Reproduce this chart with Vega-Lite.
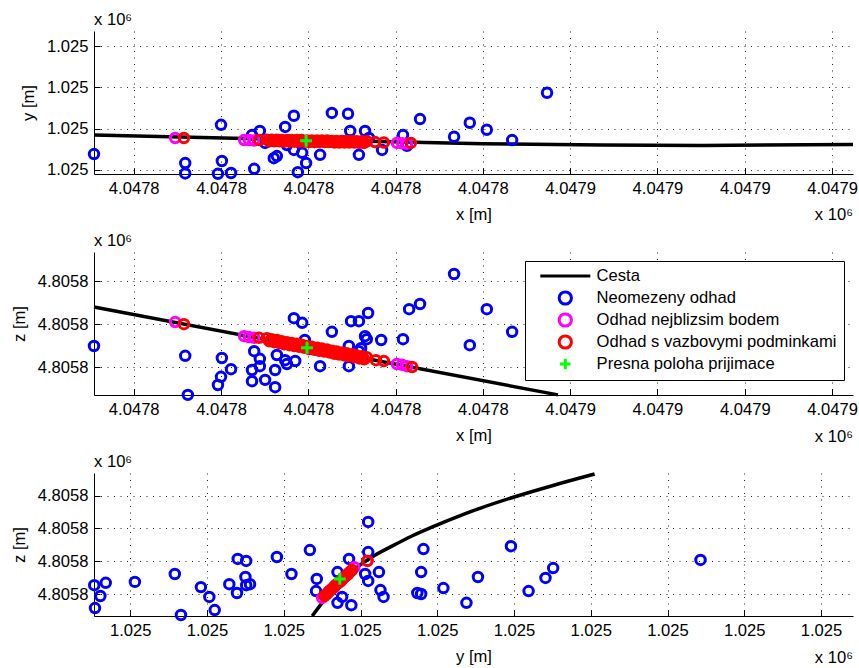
{
  "$schema": "https://vega.github.io/schema/vega-lite/v6.json",
  "background": "white",
  "padding": {"left": 11, "top": 12, "right": 4, "bottom": 5},
  "bounds": "flush",
  "spacing": 78,
  "resolve": {"scale": {"color": "independent"}, "legend": {"color": "independent"}},
  "config": {
    "font": "Liberation Sans",
    "view": {"stroke": null},
    "axis": {
      "domainColor": "black", "domainWidth": 1,
      "tickColor": "black", "tickSize": -6, "tickWidth": 1,
      "labelFont": "Liberation Sans", "labelFontSize": 16.6, "labelColor": "black",
      "labelPadding": 12, "labelFlush": false, "labelOverlap": false, "labelBound": false,
      "titleFont": "Liberation Sans", "titleFontSize": 16.6, "titleFontWeight": "normal", "titleColor": "black",
      "titlePadding": 10,
      "gridColor": "#222222", "gridDash": [1, 5.5], "gridOpacity": 1, "gridWidth": 1
    },
    "text": {"font": "Liberation Sans", "fontSize": 16.6, "color": "black"}
  },
  "datasets": {
    "p1road": [
      {"x": 4047750.9, "y": 1025008.4}, {"x": 4047775.6, "y": 1025007.8}, {"x": 4047798.6, "y": 1025007.3},
      {"x": 4047821.5, "y": 1025006.7}, {"x": 4047840.0, "y": 1025006.3}, {"x": 4047867.3, "y": 1025006.0},
      {"x": 4047890.2, "y": 1025005.9}, {"x": 4047924.8, "y": 1025006.1}
    ],
    "p1pts": [
      {"x": 4047750.9, "y": 1025003.8, "s": "Neomezeny odhad"}, {"x": 4047771.8, "y": 1025001.6, "s": "Neomezeny odhad"},
      {"x": 4047771.8, "y": 1024999.1, "s": "Neomezeny odhad"}, {"x": 4047780.0, "y": 1025010.9, "s": "Neomezeny odhad"},
      {"x": 4047780.2, "y": 1025002.1, "s": "Neomezeny odhad"}, {"x": 4047779.3, "y": 1024999.0, "s": "Neomezeny odhad"},
      {"x": 4047782.3, "y": 1024999.2, "s": "Neomezeny odhad"}, {"x": 4047787.6, "y": 1025000.2, "s": "Neomezeny odhad"},
      {"x": 4047787.1, "y": 1025008.4, "s": "Neomezeny odhad"}, {"x": 4047788.9, "y": 1025009.4, "s": "Neomezeny odhad"},
      {"x": 4047790.1, "y": 1025006.5, "s": "Neomezeny odhad"}, {"x": 4047792.1, "y": 1025002.8, "s": "Neomezeny odhad"},
      {"x": 4047792.8, "y": 1025003.3, "s": "Neomezeny odhad"}, {"x": 4047794.7, "y": 1025010.4, "s": "Neomezeny odhad"},
      {"x": 4047796.7, "y": 1025013.1, "s": "Neomezeny odhad"}, {"x": 4047795.1, "y": 1025006.0, "s": "Neomezeny odhad"},
      {"x": 4047796.7, "y": 1025004.8, "s": "Neomezeny odhad"}, {"x": 4047798.6, "y": 1025004.1, "s": "Neomezeny odhad"},
      {"x": 4047799.5, "y": 1025001.6, "s": "Neomezeny odhad"}, {"x": 4047797.6, "y": 1024999.4, "s": "Neomezeny odhad"},
      {"x": 4047802.7, "y": 1025003.6, "s": "Neomezeny odhad"}, {"x": 4047805.4, "y": 1025013.8, "s": "Neomezeny odhad"},
      {"x": 4047809.1, "y": 1025013.6, "s": "Neomezeny odhad"}, {"x": 4047809.6, "y": 1025009.4, "s": "Neomezeny odhad"},
      {"x": 4047811.6, "y": 1025003.6, "s": "Neomezeny odhad"}, {"x": 4047813.0, "y": 1025009.4, "s": "Neomezeny odhad"},
      {"x": 4047813.9, "y": 1025007.7, "s": "Neomezeny odhad"}, {"x": 4047816.9, "y": 1025004.8, "s": "Neomezeny odhad"},
      {"x": 4047821.7, "y": 1025008.4, "s": "Neomezeny odhad"}, {"x": 4047822.6, "y": 1025005.8, "s": "Neomezeny odhad"},
      {"x": 4047825.6, "y": 1025012.3, "s": "Neomezeny odhad"}, {"x": 4047833.4, "y": 1025008.0, "s": "Neomezeny odhad"},
      {"x": 4047837.0, "y": 1025011.4, "s": "Neomezeny odhad"}, {"x": 4047840.9, "y": 1025009.7, "s": "Neomezeny odhad"},
      {"x": 4047846.7, "y": 1025007.2, "s": "Neomezeny odhad"}, {"x": 4047854.7, "y": 1025018.7, "s": "Neomezeny odhad"},
      {"x": 4047769.5, "y": 1025007.7, "s": "Odhad nejblizsim bodem"}, {"x": 4047785.3, "y": 1025007.2, "s": "Odhad nejblizsim bodem"},
      {"x": 4047786.4, "y": 1025007.2, "s": "Odhad nejblizsim bodem"}, {"x": 4047787.6, "y": 1025007.1, "s": "Odhad nejblizsim bodem"},
      {"x": 4047795.0, "y": 1025007.0, "s": "Odhad nejblizsim bodem"}, {"x": 4047805.0, "y": 1025006.9, "s": "Odhad nejblizsim bodem"},
      {"x": 4047820.3, "y": 1025006.5, "s": "Odhad nejblizsim bodem"}, {"x": 4047821.5, "y": 1025006.4, "s": "Odhad nejblizsim bodem"},
      {"x": 4047822.6, "y": 1025006.3, "s": "Odhad nejblizsim bodem"},
      {"x": 4047771.5, "y": 1025007.7, "s": "Odhad s vazbovymi podminkami"}, {"x": 4047788.7, "y": 1025007.2, "s": "Odhad s vazbovymi podminkami"},
      {"x": 4047790.5, "y": 1025007.3, "s": "Odhad s vazbovymi podminkami"}, {"x": 4047791.1, "y": 1025006.9, "s": "Odhad s vazbovymi podminkami"},
      {"x": 4047791.6, "y": 1025007.3, "s": "Odhad s vazbovymi podminkami"}, {"x": 4047792.2, "y": 1025006.9, "s": "Odhad s vazbovymi podminkami"},
      {"x": 4047792.8, "y": 1025007.3, "s": "Odhad s vazbovymi podminkami"}, {"x": 4047793.4, "y": 1025006.9, "s": "Odhad s vazbovymi podminkami"},
      {"x": 4047793.9, "y": 1025007.2, "s": "Odhad s vazbovymi podminkami"}, {"x": 4047794.5, "y": 1025006.8, "s": "Odhad s vazbovymi podminkami"},
      {"x": 4047795.1, "y": 1025007.2, "s": "Odhad s vazbovymi podminkami"}, {"x": 4047795.7, "y": 1025006.8, "s": "Odhad s vazbovymi podminkami"},
      {"x": 4047796.2, "y": 1025007.2, "s": "Odhad s vazbovymi podminkami"}, {"x": 4047796.8, "y": 1025006.8, "s": "Odhad s vazbovymi podminkami"},
      {"x": 4047797.4, "y": 1025007.2, "s": "Odhad s vazbovymi podminkami"}, {"x": 4047797.9, "y": 1025006.8, "s": "Odhad s vazbovymi podminkami"},
      {"x": 4047798.5, "y": 1025007.2, "s": "Odhad s vazbovymi podminkami"}, {"x": 4047799.1, "y": 1025006.8, "s": "Odhad s vazbovymi podminkami"},
      {"x": 4047799.7, "y": 1025007.1, "s": "Odhad s vazbovymi podminkami"}, {"x": 4047800.2, "y": 1025006.7, "s": "Odhad s vazbovymi podminkami"},
      {"x": 4047800.8, "y": 1025007.1, "s": "Odhad s vazbovymi podminkami"}, {"x": 4047801.4, "y": 1025006.7, "s": "Odhad s vazbovymi podminkami"},
      {"x": 4047802.0, "y": 1025007.1, "s": "Odhad s vazbovymi podminkami"}, {"x": 4047802.5, "y": 1025006.7, "s": "Odhad s vazbovymi podminkami"},
      {"x": 4047803.1, "y": 1025007.1, "s": "Odhad s vazbovymi podminkami"}, {"x": 4047803.7, "y": 1025006.7, "s": "Odhad s vazbovymi podminkami"},
      {"x": 4047804.3, "y": 1025007.1, "s": "Odhad s vazbovymi podminkami"}, {"x": 4047804.8, "y": 1025006.7, "s": "Odhad s vazbovymi podminkami"},
      {"x": 4047805.4, "y": 1025007.0, "s": "Odhad s vazbovymi podminkami"}, {"x": 4047806.0, "y": 1025006.6, "s": "Odhad s vazbovymi podminkami"},
      {"x": 4047806.5, "y": 1025007.0, "s": "Odhad s vazbovymi podminkami"}, {"x": 4047807.1, "y": 1025006.6, "s": "Odhad s vazbovymi podminkami"},
      {"x": 4047807.7, "y": 1025007.0, "s": "Odhad s vazbovymi podminkami"}, {"x": 4047808.3, "y": 1025006.6, "s": "Odhad s vazbovymi podminkami"},
      {"x": 4047808.8, "y": 1025007.0, "s": "Odhad s vazbovymi podminkami"}, {"x": 4047809.4, "y": 1025006.6, "s": "Odhad s vazbovymi podminkami"},
      {"x": 4047810.0, "y": 1025007.0, "s": "Odhad s vazbovymi podminkami"}, {"x": 4047810.6, "y": 1025006.6, "s": "Odhad s vazbovymi podminkami"},
      {"x": 4047811.1, "y": 1025006.9, "s": "Odhad s vazbovymi podminkami"}, {"x": 4047811.7, "y": 1025006.5, "s": "Odhad s vazbovymi podminkami"},
      {"x": 4047812.3, "y": 1025006.9, "s": "Odhad s vazbovymi podminkami"}, {"x": 4047812.8, "y": 1025006.5, "s": "Odhad s vazbovymi podminkami"},
      {"x": 4047813.4, "y": 1025006.9, "s": "Odhad s vazbovymi podminkami"},
      {"x": 4047815.3, "y": 1025006.7, "s": "Odhad s vazbovymi podminkami"}, {"x": 4047817.3, "y": 1025006.6, "s": "Odhad s vazbovymi podminkami"},
      {"x": 4047823.5, "y": 1025006.5, "s": "Odhad s vazbovymi podminkami"}
    ],
    "p1plus": [{"x": 4047799.5, "y": 1025007.0, "s": "Presna poloha prijimace"}],
    "p2road": [
      {"x": 4047750.9, "z": 4805784.0, "s": "Cesta"}, {"x": 4047798.6, "z": 4805774.8, "s": "Cesta"}, {"x": 4047857.2, "z": 4805763.5, "s": "Cesta"}
    ],
    "p2pts": [
      {"x": 4047750.9, "z": 4805774.9, "s": "Neomezeny odhad"}, {"x": 4047771.8, "z": 4805772.6, "s": "Neomezeny odhad"},
      {"x": 4047772.4, "z": 4805763.5, "s": "Neomezeny odhad"}, {"x": 4047780.2, "z": 4805772.1, "s": "Neomezeny odhad"},
      {"x": 4047780.0, "z": 4805767.7, "s": "Neomezeny odhad"}, {"x": 4047779.3, "z": 4805765.8, "s": "Neomezeny odhad"},
      {"x": 4047782.3, "z": 4805769.5, "s": "Neomezeny odhad"}, {"x": 4047787.6, "z": 4805773.7, "s": "Neomezeny odhad"},
      {"x": 4047787.1, "z": 4805769.3, "s": "Neomezeny odhad"}, {"x": 4047787.1, "z": 4805766.7, "s": "Neomezeny odhad"},
      {"x": 4047788.9, "z": 4805771.9, "s": "Neomezeny odhad"}, {"x": 4047788.9, "z": 4805770.2, "s": "Neomezeny odhad"},
      {"x": 4047790.1, "z": 4805767.0, "s": "Neomezeny odhad"}, {"x": 4047792.4, "z": 4805769.3, "s": "Neomezeny odhad"},
      {"x": 4047792.4, "z": 4805765.3, "s": "Neomezeny odhad"}, {"x": 4047792.8, "z": 4805772.8, "s": "Neomezeny odhad"},
      {"x": 4047794.7, "z": 4805771.6, "s": "Neomezeny odhad"}, {"x": 4047795.1, "z": 4805770.7, "s": "Neomezeny odhad"},
      {"x": 4047796.7, "z": 4805781.4, "s": "Neomezeny odhad"}, {"x": 4047798.6, "z": 4805780.3, "s": "Neomezeny odhad"},
      {"x": 4047797.0, "z": 4805771.4, "s": "Neomezeny odhad"}, {"x": 4047799.2, "z": 4805776.3, "s": "Neomezeny odhad"},
      {"x": 4047802.7, "z": 4805770.2, "s": "Neomezeny odhad"}, {"x": 4047805.4, "z": 4805778.2, "s": "Neomezeny odhad"},
      {"x": 4047809.3, "z": 4805774.9, "s": "Neomezeny odhad"}, {"x": 4047809.3, "z": 4805770.2, "s": "Neomezeny odhad"},
      {"x": 4047809.8, "z": 4805780.7, "s": "Neomezeny odhad"}, {"x": 4047811.6, "z": 4805780.7, "s": "Neomezeny odhad"},
      {"x": 4047812.1, "z": 4805774.4, "s": "Neomezeny odhad"}, {"x": 4047813.7, "z": 4805782.6, "s": "Neomezeny odhad"},
      {"x": 4047813.0, "z": 4805777.2, "s": "Neomezeny odhad"}, {"x": 4047813.4, "z": 4805776.5, "s": "Neomezeny odhad"},
      {"x": 4047816.7, "z": 4805776.3, "s": "Neomezeny odhad"}, {"x": 4047821.7, "z": 4805776.5, "s": "Neomezeny odhad"},
      {"x": 4047823.1, "z": 4805783.5, "s": "Neomezeny odhad"}, {"x": 4047825.6, "z": 4805784.7, "s": "Neomezeny odhad"},
      {"x": 4047833.4, "z": 4805791.7, "s": "Neomezeny odhad"}, {"x": 4047840.9, "z": 4805783.5, "s": "Neomezeny odhad"},
      {"x": 4047846.7, "z": 4805778.2, "s": "Neomezeny odhad"}, {"x": 4047837.0, "z": 4805775.1, "s": "Neomezeny odhad"},
      {"x": 4047811.6, "z": 4805773.7, "s": "Neomezeny odhad"},
      {"x": 4047769.5, "z": 4805780.5, "s": "Odhad nejblizsim bodem"}, {"x": 4047785.3, "z": 4805777.2, "s": "Odhad nejblizsim bodem"},
      {"x": 4047786.4, "z": 4805777.0, "s": "Odhad nejblizsim bodem"}, {"x": 4047787.6, "z": 4805776.8, "s": "Odhad nejblizsim bodem"},
      {"x": 4047795.0, "z": 4805775.5, "s": "Odhad nejblizsim bodem"}, {"x": 4047805.0, "z": 4805773.6, "s": "Odhad nejblizsim bodem"},
      {"x": 4047820.3, "z": 4805770.7, "s": "Odhad nejblizsim bodem"}, {"x": 4047821.5, "z": 4805770.5, "s": "Odhad nejblizsim bodem"},
      {"x": 4047822.6, "z": 4805770.2, "s": "Odhad nejblizsim bodem"},
      {"x": 4047771.5, "z": 4805780.0, "s": "Odhad s vazbovymi podminkami"}, {"x": 4047788.7, "z": 4805776.8, "s": "Odhad s vazbovymi podminkami"},
      {"x": 4047790.5, "z": 4805776.7, "s": "Odhad s vazbovymi podminkami"}, {"x": 4047791.1, "z": 4805776.0, "s": "Odhad s vazbovymi podminkami"},
      {"x": 4047791.6, "z": 4805776.5, "s": "Odhad s vazbovymi podminkami"}, {"x": 4047792.2, "z": 4805775.8, "s": "Odhad s vazbovymi podminkami"},
      {"x": 4047792.8, "z": 4805776.3, "s": "Odhad s vazbovymi podminkami"}, {"x": 4047793.4, "z": 4805775.6, "s": "Odhad s vazbovymi podminkami"},
      {"x": 4047793.9, "z": 4805776.0, "s": "Odhad s vazbovymi podminkami"}, {"x": 4047794.5, "z": 4805775.3, "s": "Odhad s vazbovymi podminkami"},
      {"x": 4047795.1, "z": 4805775.8, "s": "Odhad s vazbovymi podminkami"}, {"x": 4047795.7, "z": 4805775.1, "s": "Odhad s vazbovymi podminkami"},
      {"x": 4047796.2, "z": 4805775.6, "s": "Odhad s vazbovymi podminkami"}, {"x": 4047796.8, "z": 4805774.9, "s": "Odhad s vazbovymi podminkami"},
      {"x": 4047797.4, "z": 4805775.4, "s": "Odhad s vazbovymi podminkami"}, {"x": 4047797.9, "z": 4805774.7, "s": "Odhad s vazbovymi podminkami"},
      {"x": 4047798.5, "z": 4805775.2, "s": "Odhad s vazbovymi podminkami"}, {"x": 4047799.1, "z": 4805774.5, "s": "Odhad s vazbovymi podminkami"},
      {"x": 4047799.7, "z": 4805774.9, "s": "Odhad s vazbovymi podminkami"}, {"x": 4047800.2, "z": 4805774.2, "s": "Odhad s vazbovymi podminkami"},
      {"x": 4047800.8, "z": 4805774.7, "s": "Odhad s vazbovymi podminkami"}, {"x": 4047801.4, "z": 4805774.0, "s": "Odhad s vazbovymi podminkami"},
      {"x": 4047802.0, "z": 4805774.5, "s": "Odhad s vazbovymi podminkami"}, {"x": 4047802.5, "z": 4805773.8, "s": "Odhad s vazbovymi podminkami"},
      {"x": 4047803.1, "z": 4805774.3, "s": "Odhad s vazbovymi podminkami"}, {"x": 4047803.7, "z": 4805773.6, "s": "Odhad s vazbovymi podminkami"},
      {"x": 4047804.3, "z": 4805774.1, "s": "Odhad s vazbovymi podminkami"}, {"x": 4047804.8, "z": 4805773.4, "s": "Odhad s vazbovymi podminkami"},
      {"x": 4047805.4, "z": 4805773.8, "s": "Odhad s vazbovymi podminkami"}, {"x": 4047806.0, "z": 4805773.1, "s": "Odhad s vazbovymi podminkami"},
      {"x": 4047806.5, "z": 4805773.6, "s": "Odhad s vazbovymi podminkami"}, {"x": 4047807.1, "z": 4805772.9, "s": "Odhad s vazbovymi podminkami"},
      {"x": 4047807.7, "z": 4805773.4, "s": "Odhad s vazbovymi podminkami"}, {"x": 4047808.3, "z": 4805772.7, "s": "Odhad s vazbovymi podminkami"},
      {"x": 4047808.8, "z": 4805773.2, "s": "Odhad s vazbovymi podminkami"}, {"x": 4047809.4, "z": 4805772.5, "s": "Odhad s vazbovymi podminkami"},
      {"x": 4047810.0, "z": 4805773.0, "s": "Odhad s vazbovymi podminkami"}, {"x": 4047810.6, "z": 4805772.3, "s": "Odhad s vazbovymi podminkami"},
      {"x": 4047811.1, "z": 4805772.7, "s": "Odhad s vazbovymi podminkami"}, {"x": 4047811.7, "z": 4805772.0, "s": "Odhad s vazbovymi podminkami"},
      {"x": 4047812.3, "z": 4805772.5, "s": "Odhad s vazbovymi podminkami"}, {"x": 4047812.8, "z": 4805771.8, "s": "Odhad s vazbovymi podminkami"},
      {"x": 4047813.4, "z": 4805772.3, "s": "Odhad s vazbovymi podminkami"},
      {"x": 4047815.5, "z": 4805771.6, "s": "Odhad s vazbovymi podminkami"}, {"x": 4047817.3, "z": 4805771.4, "s": "Odhad s vazbovymi podminkami"},
      {"x": 4047823.8, "z": 4805770.0, "s": "Odhad s vazbovymi podminkami"}
    ],
    "p2plus": [{"x": 4047799.7, "z": 4805774.5, "s": "Presna poloha prijimace"}],
    "p3road": [
      {"y": 1024978.7, "z": 4805763.3}, {"y": 1024980.4, "z": 4805768.5}, {"y": 1024982.2, "z": 4805773.7},
      {"y": 1024984.2, "z": 4805777.6}, {"y": 1024986.5, "z": 4805781.3}, {"y": 1024989.1, "z": 4805784.6},
      {"y": 1024991.7, "z": 4805787.7}, {"y": 1024994.3, "z": 4805790.4}, {"y": 1024998.5, "z": 4805794.4},
      {"y": 1025004.6, "z": 4805799.3}, {"y": 1025010.2, "z": 4805803.2}, {"y": 1025015.5, "z": 4805806.6}
    ],
    "p3pts": [
      {"y": 1024950.3, "z": 4805772.7, "s": "Neomezeny odhad"}, {"y": 1024950.4, "z": 4805765.7, "s": "Neomezeny odhad"},
      {"y": 1024951.1, "z": 4805769.4, "s": "Neomezeny odhad"}, {"y": 1024951.8, "z": 4805773.4, "s": "Neomezeny odhad"},
      {"y": 1024955.6, "z": 4805773.7, "s": "Neomezeny odhad"}, {"y": 1024960.8, "z": 4805776.1, "s": "Neomezeny odhad"},
      {"y": 1024961.6, "z": 4805763.6, "s": "Neomezeny odhad"}, {"y": 1024964.2, "z": 4805772.1, "s": "Neomezeny odhad"},
      {"y": 1024965.3, "z": 4805769.1, "s": "Neomezeny odhad"}, {"y": 1024966.0, "z": 4805765.1, "s": "Neomezeny odhad"},
      {"y": 1024967.9, "z": 4805773.0, "s": "Neomezeny odhad"}, {"y": 1024968.9, "z": 4805770.3, "s": "Neomezeny odhad"},
      {"y": 1024969.0, "z": 4805780.7, "s": "Neomezeny odhad"}, {"y": 1024970.1, "z": 4805780.1, "s": "Neomezeny odhad"},
      {"y": 1024970.0, "z": 4805775.2, "s": "Neomezeny odhad"}, {"y": 1024970.1, "z": 4805772.7, "s": "Neomezeny odhad"},
      {"y": 1024970.6, "z": 4805773.0, "s": "Neomezeny odhad"}, {"y": 1024974.1, "z": 4805781.3, "s": "Neomezeny odhad"},
      {"y": 1024976.0, "z": 4805776.1, "s": "Neomezeny odhad"}, {"y": 1024978.4, "z": 4805783.4, "s": "Neomezeny odhad"},
      {"y": 1024979.3, "z": 4805774.6, "s": "Neomezeny odhad"}, {"y": 1024979.2, "z": 4805770.9, "s": "Neomezeny odhad"},
      {"y": 1024982.0, "z": 4805776.7, "s": "Neomezeny odhad"}, {"y": 1024982.0, "z": 4805767.3, "s": "Neomezeny odhad"},
      {"y": 1024982.6, "z": 4805769.1, "s": "Neomezeny odhad"}, {"y": 1024983.5, "z": 4805780.7, "s": "Neomezeny odhad"},
      {"y": 1024983.8, "z": 4805766.6, "s": "Neomezeny odhad"}, {"y": 1024986.0, "z": 4805792.0, "s": "Neomezeny odhad"},
      {"y": 1024986.0, "z": 4805782.8, "s": "Neomezeny odhad"}, {"y": 1024985.6, "z": 4805776.1, "s": "Neomezeny odhad"},
      {"y": 1024986.0, "z": 4805774.0, "s": "Neomezeny odhad"}, {"y": 1024987.4, "z": 4805776.7, "s": "Neomezeny odhad"},
      {"y": 1024987.6, "z": 4805771.2, "s": "Neomezeny odhad"}, {"y": 1024988.0, "z": 4805769.1, "s": "Neomezeny odhad"},
      {"y": 1024993.2, "z": 4805783.7, "s": "Neomezeny odhad"}, {"y": 1024992.9, "z": 4805776.7, "s": "Neomezeny odhad"},
      {"y": 1024992.4, "z": 4805770.3, "s": "Neomezeny odhad"}, {"y": 1024992.9, "z": 4805770.0, "s": "Neomezeny odhad"},
      {"y": 1024995.8, "z": 4805771.8, "s": "Neomezeny odhad"}, {"y": 1024998.8, "z": 4805767.3, "s": "Neomezeny odhad"},
      {"y": 1025000.3, "z": 4805775.2, "s": "Neomezeny odhad"}, {"y": 1025004.6, "z": 4805784.6, "s": "Neomezeny odhad"},
      {"y": 1025006.9, "z": 4805770.9, "s": "Neomezeny odhad"}, {"y": 1025009.1, "z": 4805774.9, "s": "Neomezeny odhad"},
      {"y": 1025010.1, "z": 4805777.9, "s": "Neomezeny odhad"}, {"y": 1025029.3, "z": 4805780.4, "s": "Neomezeny odhad"},
      {"y": 1024980.0, "z": 4805768.8, "s": "Odhad nejblizsim bodem"}, {"y": 1024981.5, "z": 4805772.0, "s": "Odhad nejblizsim bodem"},
      {"y": 1024984.2, "z": 4805778.2, "s": "Odhad nejblizsim bodem"}, {"y": 1024985.9, "z": 4805780.1, "s": "Odhad nejblizsim bodem"},
      {"y": 1024980.3, "z": 4805769.4, "s": "Odhad s vazbovymi podminkami"}, {"y": 1024980.5, "z": 4805769.8, "s": "Odhad s vazbovymi podminkami"},
      {"y": 1024980.7, "z": 4805770.2, "s": "Odhad s vazbovymi podminkami"}, {"y": 1024980.8, "z": 4805770.6, "s": "Odhad s vazbovymi podminkami"},
      {"y": 1024981.0, "z": 4805771.0, "s": "Odhad s vazbovymi podminkami"}, {"y": 1024981.2, "z": 4805771.4, "s": "Odhad s vazbovymi podminkami"},
      {"y": 1024981.4, "z": 4805771.8, "s": "Odhad s vazbovymi podminkami"}, {"y": 1024981.6, "z": 4805772.2, "s": "Odhad s vazbovymi podminkami"},
      {"y": 1024981.7, "z": 4805772.6, "s": "Odhad s vazbovymi podminkami"}, {"y": 1024981.9, "z": 4805773.0, "s": "Odhad s vazbovymi podminkami"},
      {"y": 1024982.1, "z": 4805773.4, "s": "Odhad s vazbovymi podminkami"}, {"y": 1024982.3, "z": 4805773.7, "s": "Odhad s vazbovymi podminkami"},
      {"y": 1024982.5, "z": 4805774.1, "s": "Odhad s vazbovymi podminkami"}, {"y": 1024982.6, "z": 4805774.5, "s": "Odhad s vazbovymi podminkami"},
      {"y": 1024982.8, "z": 4805774.9, "s": "Odhad s vazbovymi podminkami"}, {"y": 1024983.0, "z": 4805775.3, "s": "Odhad s vazbovymi podminkami"},
      {"y": 1024983.2, "z": 4805775.7, "s": "Odhad s vazbovymi podminkami"}, {"y": 1024983.4, "z": 4805776.1, "s": "Odhad s vazbovymi podminkami"},
      {"y": 1024983.5, "z": 4805776.5, "s": "Odhad s vazbovymi podminkami"}, {"y": 1024983.7, "z": 4805776.9, "s": "Odhad s vazbovymi podminkami"},
      {"y": 1024983.9, "z": 4805777.3, "s": "Odhad s vazbovymi podminkami"}, {"y": 1024985.9, "z": 4805780.1, "s": "Odhad s vazbovymi podminkami"}
    ],
    "p3plus": [{"y": 1024982.3, "z": 4805774.6, "s": "Presna poloha prijimace"}]
  },
  "vconcat": [
    {
      "width": 759, "height": 143,
      "layer": [
        {
          "data": {"name": "p1road"},
          "mark": {"type": "line", "color": "black", "strokeWidth": 3.5},
          "encoding": {
            "x": {"field": "x", "type": "quantitative", "scale": {"domain": [4047750.9, 4047924.8], "nice": false, "zero": false},
                  "axis": {"title": "x [m]", "values": [4047760, 4047780, 4047800, 4047820, 4047840, 4047860, 4047880, 4047900, 4047920], "labelExpr": "format(datum.value / 1000000, '.4~f')"}},
            "y": {"field": "y", "type": "quantitative", "scale": {"domain": [1024998.95, 1025033.7], "nice": false, "zero": false},
                  "axis": {"title": "y [m]", "values": [1025000, 1025010, 1025020, 1025030], "labelExpr": "format(datum.value / 1000000, '.4~f')"}}
          }
        },
        {
          "data": {"name": "p1pts"},
          "mark": {"type": "point", "shape": "circle", "filled": false, "strokeWidth": 3, "size": 90, "opacity": 1},
          "encoding": {
            "x": {"field": "x", "type": "quantitative"},
            "y": {"field": "y", "type": "quantitative"},
            "color": {"field": "s", "type": "nominal", "legend": null,
                      "scale": {"domain": ["Cesta", "Neomezeny odhad", "Odhad nejblizsim bodem", "Odhad s vazbovymi podminkami", "Presna poloha prijimace"], "range": ["#000000", "#0000ff", "#ff00ff", "#ff0000", "#00ff00"]}}
          }
        },
        {
          "data": {"name": "p1plus"},
          "mark": {"type": "point", "shape": "M-1,0L1,0M0,-1L0,1", "filled": false, "strokeWidth": 3, "size": 140, "opacity": 1},
          "encoding": {
            "x": {"field": "x", "type": "quantitative"},
            "y": {"field": "y", "type": "quantitative"},
            "color": {"field": "s", "type": "nominal", "legend": null}
          }
        },
        {
          "data": {"values": [{}]},
          "mark": {"type": "text", "text": "x 10⁶", "align": "left", "baseline": "alphabetic", "dy": -6},
          "encoding": {"x": {"datum": 4047750.9, "type": "quantitative"}, "y": {"datum": 1025033.7, "type": "quantitative"}}
        },
        {
          "data": {"values": [{}]},
          "mark": {"type": "text", "text": "x 10⁶", "align": "right", "baseline": "alphabetic", "dy": 46},
          "encoding": {"x": {"datum": 4047924.8, "type": "quantitative"}, "y": {"datum": 1024998.95, "type": "quantitative"}}
        }
      ]
    },
    {
      "width": 759, "height": 143,
      "layer": [
        {
          "data": {"name": "p2road"},
          "mark": {"type": "line", "strokeWidth": 3.5},
          "encoding": {
            "x": {"field": "x", "type": "quantitative", "scale": {"domain": [4047750.9, 4047924.8], "nice": false, "zero": false},
                  "axis": {"title": "x [m]", "values": [4047760, 4047780, 4047800, 4047820, 4047840, 4047860, 4047880, 4047900, 4047920], "labelExpr": "format(datum.value / 1000000, '.4~f')"}},
            "y": {"field": "z", "type": "quantitative", "scale": {"domain": [4805763.47, 4805796.83], "nice": false, "zero": false},
                  "axis": {"title": "z [m]", "values": [4805770, 4805780, 4805790], "labelExpr": "format(datum.value / 1000000, '.4~f')"}},
            "color": {"field": "s", "type": "nominal",
                      "scale": {"domain": ["Cesta", "Neomezeny odhad", "Odhad nejblizsim bodem", "Odhad s vazbovymi podminkami", "Presna poloha prijimace"], "range": ["#000000", "#0000ff", "#ff00ff", "#ff0000", "#00ff00"]},
                      "legend": {
                        "title": null, "orient": "top-right", "offset": 9,
                        "fillColor": "white", "strokeColor": "black", "padding": 7, "rowPadding": 5, "clipHeight": 16,
                        "symbolSize": 150, "symbolStrokeWidth": 3, "symbolOffset": 25, "labelOffset": 23, "labelLimit": 600,
                        "labelFont": "Liberation Sans", "labelFontSize": 16.6, "labelColor": "black",
                        "encode": {"symbols": {"update": {
                          "shape": {"signal": "datum.value === 'Cesta' ? 'stroke' : (datum.value === 'Presna poloha prijimace' ? 'M-1,0L1,0M0,-1L0,1' : 'circle')"},
                          "size": {"signal": "datum.value === 'Cesta' ? 2500 : (datum.value === 'Presna poloha prijimace' ? 110 : 150)"},
                          "fill": {"value": "transparent"},
                          "strokeWidth": {"value": 3}
                        }}}
                      }}
          }
        },
        {
          "data": {"name": "p2pts"},
          "mark": {"type": "point", "shape": "circle", "filled": false, "strokeWidth": 3, "size": 90, "opacity": 1},
          "encoding": {
            "x": {"field": "x", "type": "quantitative"},
            "y": {"field": "z", "type": "quantitative"},
            "color": {"field": "s", "type": "nominal"}
          }
        },
        {
          "data": {"name": "p2plus"},
          "mark": {"type": "point", "shape": "M-1,0L1,0M0,-1L0,1", "filled": false, "strokeWidth": 3, "size": 140, "opacity": 1},
          "encoding": {
            "x": {"field": "x", "type": "quantitative"},
            "y": {"field": "z", "type": "quantitative"},
            "color": {"field": "s", "type": "nominal"}
          }
        },
        {
          "data": {"values": [{}]},
          "mark": {"type": "text", "text": "x 10⁶", "align": "left", "baseline": "alphabetic", "dy": -6},
          "encoding": {"x": {"datum": 4047750.9, "type": "quantitative"}, "y": {"datum": 4805796.83, "type": "quantitative"}}
        },
        {
          "data": {"values": [{}]},
          "mark": {"type": "text", "text": "x 10⁶", "align": "right", "baseline": "alphabetic", "dy": 47},
          "encoding": {"x": {"datum": 4047924.8, "type": "quantitative"}, "y": {"datum": 4805763.47, "type": "quantitative"}}
        }
      ]
    },
    {
      "width": 759, "height": 143,
      "layer": [
        {
          "data": {"name": "p3road"},
          "mark": {"type": "line", "color": "black", "strokeWidth": 3.5, "interpolate": "monotone"},
          "encoding": {
            "x": {"field": "y", "type": "quantitative", "scale": {"domain": [1024950.27, 1025049.17], "nice": false, "zero": false},
                  "axis": {"title": "y [m]", "values": [1024955, 1024965, 1024975, 1024985, 1024995, 1025005, 1025015, 1025025, 1025035, 1025045], "labelExpr": "format(datum.value / 1000000, '.4~f')"}},
            "y": {"field": "z", "type": "quantitative", "scale": {"domain": [4805763.29, 4805806.92], "nice": false, "zero": false},
                  "axis": {"title": "z [m]", "values": [4805770, 4805780, 4805790, 4805800], "labelExpr": "format(datum.value / 1000000, '.4~f')"}}
          }
        },
        {
          "data": {"name": "p3pts"},
          "mark": {"type": "point", "shape": "circle", "filled": false, "strokeWidth": 3, "size": 90, "opacity": 1},
          "encoding": {
            "x": {"field": "y", "type": "quantitative"},
            "y": {"field": "z", "type": "quantitative"},
            "color": {"field": "s", "type": "nominal", "legend": null,
                      "scale": {"domain": ["Cesta", "Neomezeny odhad", "Odhad nejblizsim bodem", "Odhad s vazbovymi podminkami", "Presna poloha prijimace"], "range": ["#000000", "#0000ff", "#ff00ff", "#ff0000", "#00ff00"]}}
          }
        },
        {
          "data": {"name": "p3plus"},
          "mark": {"type": "point", "shape": "M-1,0L1,0M0,-1L0,1", "filled": false, "strokeWidth": 3, "size": 140, "opacity": 1},
          "encoding": {
            "x": {"field": "y", "type": "quantitative"},
            "y": {"field": "z", "type": "quantitative"},
            "color": {"field": "s", "type": "nominal", "legend": null}
          }
        },
        {
          "data": {"values": [{}]},
          "mark": {"type": "text", "text": "x 10⁶", "align": "left", "baseline": "alphabetic", "dy": -6},
          "encoding": {"x": {"datum": 1024950.27, "type": "quantitative"}, "y": {"datum": 4805806.92, "type": "quantitative"}}
        },
        {
          "data": {"values": [{}]},
          "mark": {"type": "text", "text": "x 10⁶", "align": "right", "baseline": "alphabetic", "dy": 47},
          "encoding": {"x": {"datum": 1025049.17, "type": "quantitative"}, "y": {"datum": 4805763.29, "type": "quantitative"}}
        }
      ]
    }
  ]
}
